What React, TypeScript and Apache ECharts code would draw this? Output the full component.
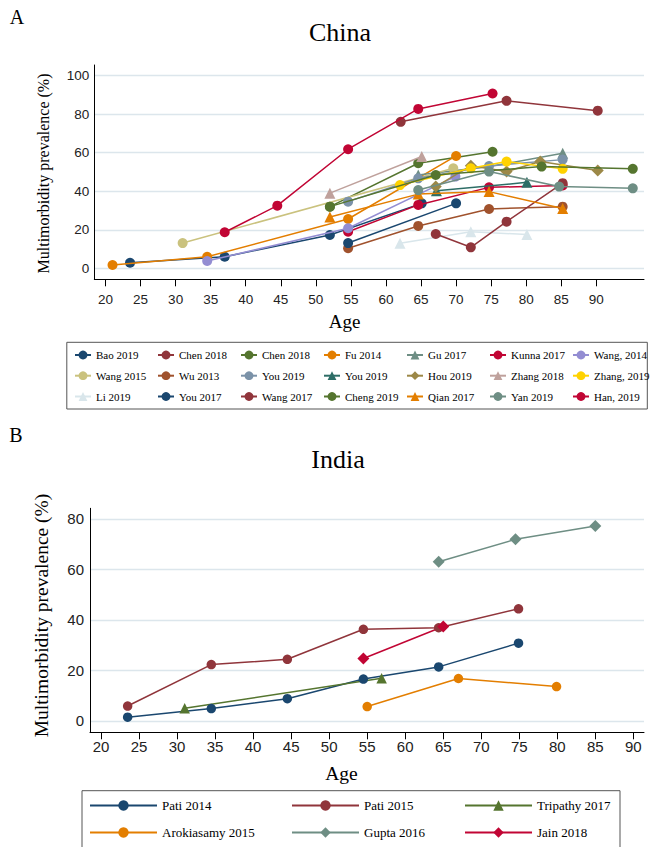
import React, { useEffect, useRef } from 'react';
import * as echarts from 'echarts';

// ---------- tick labels ----------
const chinaAgeTicks = [20, 25, 30, 35, 40, 45, 50, 55, 60, 65, 70, 75, 80, 85, 90];
const chinaPrevTicks = [0, 20, 40, 60, 80, 100];
const indiaAgeTicks = [20, 25, 30, 35, 40, 45, 50, 55, 60, 65, 70, 75, 80, 85, 90];
const indiaPrevTicks = [0, 20, 40, 60, 80];

// ---------- China studies: [age, prevalence %] ----------
const bao2019 = [[23.5, 2.9], [37, 6], [52, 17.3], [65.1, 33.7]];
const chen2018a = [[62.1, 76], [77.2, 86.9], [90.2, 81.8]];
const chen2018b = [[52, 32], [64.6, 54.5], [75.2, 60.5]];
const fu2014 = [[21, 1.7], [34.5, 6], [54.6, 25.6], [70, 58.3]];
const gu2017 = [[64.6, 48.4], [74.7, 52.8], [85.2, 59.7]];
const kunna2017 = [[54.6, 19], [64.6, 32.9], [74.7, 42], [85.2, 43]];
const wang2014 = [[34.5, 3.8], [54.6, 20.8], [69.9, 47.6]];
const wang2015 = [[31, 13.1], [69.6, 51.9]];
const wu2013 = [[54.6, 10.4], [64.6, 22], [74.7, 30.8], [85.2, 32]];
const you2019a = [[54.6, 34.6], [64.6, 46.7], [74.7, 53.1], [85.2, 56.4]];
const you2019b = [[67.2, 40.2], [80.1, 44.6]];
const hou2019 = [[67.1, 42.4], [72.1, 53.2], [77.2, 50.2], [82, 55.4], [90.2, 50.7]];
const zhang2018 = [[52, 39], [65.1, 58]];
const zhang2019 = [[62, 43.2], [72.1, 51.9], [77.2, 55.4], [85.2, 51.6]];
const li2019 = [[62, 13], [72.1, 19], [80.1, 17.5]];
const you2017 = [[54.6, 13.1], [70, 33.7]];
const wang2017 = [[67.1, 17.8], [72.1, 10.9], [77.2, 24.2], [85.2, 44.2]];
const cheng2019 = [[52, 32], [67.1, 48.4], [82.2, 52.8], [95.2, 51.6]];
const qian2017 = [[52, 26.6], [64.6, 38.5], [74.7, 39.8], [85.2, 31]];
const yan2019 = [[64.6, 40.6], [74.7, 50.2], [84.7, 42.4], [95.2, 41.5]];
const han2019 = [[37, 18.7], [44.5, 32.5], [54.6, 61.8], [64.6, 82.7], [75.2, 90.7]];

const chinaLabels = [
  'Bao 2019', 'Chen 2018', 'Chen 2018', 'Fu 2014', 'Gu 2017', 'Kunna 2017', 'Wang, 2014',
  'Wang 2015', 'Wu 2013', 'You 2019', 'You 2019', 'Hou 2019', 'Zhang 2018', 'Zhang, 2019',
  'Li 2019', 'You 2017', 'Wang 2017', 'Cheng 2019', 'Qian 2017', 'Yan 2019', 'Han, 2019',
];
const chinaValues = [
  bao2019, chen2018a, chen2018b, fu2014, gu2017, kunna2017, wang2014,
  wang2015, wu2013, you2019a, you2019b, hou2019, zhang2018, zhang2019,
  li2019, you2017, wang2017, cheng2019, qian2017, yan2019, han2019,
];

// ---------- India studies ----------
const pati2014 = [[23.5, 1.5], [34.5, 4.9], [44.5, 8.8], [54.5, 16.6], [64.4, 21.4], [74.9, 30.8]];
const pati2015 = [[23.5, 5.9], [34.5, 22.3], [44.5, 24.4], [54.5, 36.3], [64.4, 36.9], [74.9, 44.4]];
const tripathy2017 = [[31, 5], [56.9, 16.9]];
const arokiasamy2015 = [[55, 5.7], [67, 16.8], [79.9, 13.6]];
const gupta2016 = [[64.4, 63], [74.5, 71.9], [85, 77.2]];
const jain2018 = [[54.5, 24.7], [65, 37.4]];

const indiaLabels = ['Pati 2014', 'Pati 2015', 'Tripathy 2017', 'Arokiasamy 2015', 'Gupta 2016', 'Jain 2018'];
const indiaValues = [pati2014, pati2015, tripathy2017, arokiasamy2015, gupta2016, jain2018];

// ---------- styles (Stata s2color) ----------
const C = {
  navy: '#1a476f', maroon: '#90353b', forest: '#55752f', dkorange: '#e37e00', teal: '#6e8e84',
  cranberry: '#c10534', lavender: '#938dd2', khaki: '#cac27e', sienna: '#a0522d', emidblue: '#7b92a8',
  emerald: '#2d6d66', brown: '#9c8847', erose: '#bfa19c', gold: '#ffd200', bluishgray: '#d9e6eb',
};
const chinaColors = [
  C.navy, C.maroon, C.forest, C.dkorange, C.teal, C.cranberry, C.lavender,
  C.khaki, C.sienna, C.emidblue, C.emerald, C.brown, C.erose, C.gold,
  C.bluishgray, C.navy, C.maroon, C.forest, C.dkorange, C.teal, C.cranberry,
];
const chinaSymbols = [
  'circle', 'circle', 'circle', 'circle', 'triangle', 'circle', 'circle',
  'circle', 'circle', 'circle', 'triangle', 'diamond', 'triangle', 'circle',
  'triangle', 'circle', 'circle', 'circle', 'triangle', 'circle', 'circle',
];
const indiaColors = [C.navy, C.maroon, C.forest, C.dkorange, C.teal, C.cranberry];
const indiaSymbols = ['circle', 'circle', 'triangle', 'circle', 'diamond', 'diamond'];

const SERIF = '"Liberation Serif", "Times New Roman", serif';
const SANS = '"Liberation Sans", Arial, sans-serif';
const GRID_COLOR = '#dce6ec';

const symSize = (s: string, big: boolean) =>
  s === 'diamond' ? 12 : s === 'triangle' ? (big ? 11 : 10.5) : big ? 10 : 9.5;

export default function App() {
  const ref = useRef<HTMLDivElement>(null);

  useEffect(() => {
    document.body.style.margin = '0';
    if (!ref.current) return;
    const chart = echarts.init(ref.current, undefined, { renderer: 'svg' });

    const chinaNames = chinaLabels.map((l, i) => `${l}#${i}`);
    const indiaNames = indiaLabels.map((l, i) => `${l}#i${i}`);
    const strip = (n: string) => n.split('#')[0];

    const series: any[] = [];
    chinaValues.forEach((d, i) => {
      series.push({
        type: 'line', name: chinaNames[i], xAxisIndex: 0, yAxisIndex: 0, data: d,
        symbol: chinaSymbols[i], symbolSize: symSize(chinaSymbols[i], true),
        lineStyle: { color: chinaColors[i], width: 1.5 },
        itemStyle: { color: chinaColors[i] },
        emphasis: { disabled: true }, z: 2 + i * 0.01,
      });
    });
    indiaValues.forEach((d, i) => {
      series.push({
        type: 'line', name: indiaNames[i], xAxisIndex: 1, yAxisIndex: 1, data: d,
        symbol: indiaSymbols[i], symbolSize: symSize(indiaSymbols[i], false),
        lineStyle: { color: indiaColors[i], width: 1.5 },
        itemStyle: { color: indiaColors[i] },
        emphasis: { disabled: true },
      });
    });

    const legends: any[] = [];
    // China legend: 7 columns x 3 rows
    const cRows = [355, 375.7, 396.5];
    chinaNames.forEach((n, i) => {
      const col = i % 7;
      const row = Math.floor(i / 7);
      legends.push({
        data: [n], left: 74 + col * 83, top: cRows[row] - 5.5,
        itemWidth: 16, itemHeight: 11, padding: 0, itemGap: 0, selectedMode: false,
        formatter: strip,
        textStyle: { fontFamily: SERIF, fontSize: 11, fontWeight: 'normal', color: '#000' },
      });
    });
    const iCols = [89, 291, 464];
    const iRows = [805.5, 832.5];
    indiaNames.forEach((n, i) => {
      const col = i % 3;
      const row = Math.floor(i / 3);
      legends.push({
        data: [n], left: iCols[col], top: iRows[row] - 6.5,
        itemWidth: 67, itemHeight: 13, padding: 0, itemGap: 0, selectedMode: false,
        formatter: strip,
        textStyle: { fontFamily: SERIF, fontSize: 13, fontWeight: 'normal', color: '#000' },
      });
    });

    const txt = (text: string, x: number, y: number, size: number, rot = 0) => ({
      type: 'text', x, y, rotation: rot, silent: true,
      style: {
        text, fontSize: size, fontFamily: SERIF, fontWeight: 'normal', fill: '#000',
        align: 'center', verticalAlign: 'middle',
      },
    });

    const xAxisBase = (min: number, max: number, ticks: number[], fs: number, margin: number, gi: number) => ({
      type: 'value', gridIndex: gi, min, max,
      axisLine: { show: true, onZero: false, lineStyle: { color: '#000', width: 1 } },
      axisTick: { show: true, customValues: ticks, length: 7, lineStyle: { color: '#000' } },
      axisLabel: { customValues: ticks, fontFamily: SANS, fontSize: fs, color: '#222', margin },
      splitLine: { show: false },
    });
    const yAxisBase = (min: number, max: number, ticks: number[], fs: number, margin: number, gi: number) => ({
      type: 'value', gridIndex: gi, min, max,
      axisLine: { show: true, onZero: false, lineStyle: { color: '#000', width: 1 } },
      axisTick: { show: false, customValues: ticks },
      axisLabel: { customValues: ticks, fontFamily: SANS, fontSize: fs, color: '#222', margin },
      splitLine: { show: true, lineStyle: { color: GRID_COLOR, width: 1.3 } },
    });

    chart.setOption({
      animation: false,
      backgroundColor: '#fff',
      tooltip: { show: false },
      grid: [
        { left: 94.3, top: 65, width: 549.7, height: 214.3 },
        { left: 90, top: 508.3, width: 554, height: 224 },
      ],
      xAxis: [
        xAxisBase(18.4, 96.8, chinaAgeTicks, 13.5, 13, 0),
        xAxisBase(18.55, 91.4, indiaAgeTicks, 15, 7, 1),
      ],
      yAxis: [
        yAxisBase(-5.7, 105.5, chinaPrevTicks, 13.5, 5, 0),
        yAxisBase(-4.5, 84.2, indiaPrevTicks, 15, 6, 1),
      ],
      legend: legends,
      series,
      graphic: [
        txt('A', 17, 17, 20),
        txt('China', 340, 32, 26),
        txt('Age', 344.5, 321.7, 19),
        txt('Multimorbidity prevalence (%)', 43, 173.5, 16, Math.PI / 2),
        {
          type: 'rect', silent: true,
          shape: { x: 66.8, y: 342.3, width: 580.5, height: 66.7 },
          style: { fill: 'none', stroke: '#555', lineWidth: 1 },
        },
        txt('B', 16, 435, 20),
        txt('India', 338, 459, 26),
        txt('Age', 341.5, 773, 19.5),
        txt('Multimorbidity prevalence (%)', 41.5, 615.5, 19.5, Math.PI / 2),
        {
          type: 'rect', silent: true,
          shape: { x: 82, y: 790.7, width: 538, height: 70 },
          style: { fill: 'none', stroke: '#555', lineWidth: 1 },
        },
      ],
    });

    return () => chart.dispose();
  }, []);

  return <div ref={ref} style={{ width: 654, height: 847 }} />;
}
